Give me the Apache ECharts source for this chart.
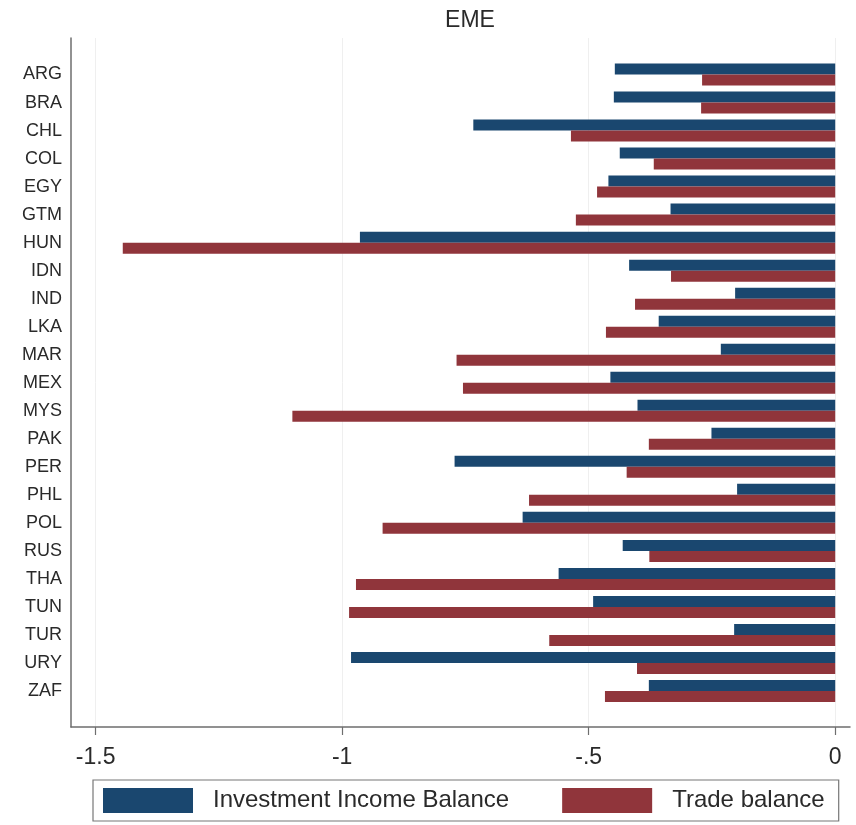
<!DOCTYPE html>
<html>
<head>
<meta charset="utf-8">
<script src="https://cdn.jsdelivr.net/npm/echarts@6/dist/echarts.min.js"></script>
<style>
  html, body { margin: 0; padding: 0; background: #fff; }
  #chart { width: 856px; height: 825px; }
</style>
</head>
<body>
<div id="chart"></div>
<script>
// Country codes, top to bottom
const countries = ['ARG','BRA','CHL','COL','EGY','GTM','HUN','IDN','IND','LKA','MAR','MEX',
  'MYS','PAK','PER','PHL','POL','RUS','THA','TUN','TUR','URY','ZAF'];

// Investment income balance
const investmentIncome = [-0.447,-0.449,-0.734,-0.437,-0.460,-0.334,-0.964,-0.418,-0.203,-0.358,-0.232,-0.456,
  -0.401,-0.251,-0.772,-0.199,-0.634,-0.431,-0.561,-0.491,-0.205,-0.982,-0.378];

// Trade balance
const tradeBalance = [-0.270,-0.272,-0.536,-0.368,-0.483,-0.526,-1.445,-0.333,-0.406,-0.465,-0.768,-0.755,
  -1.101,-0.378,-0.423,-0.621,-0.918,-0.377,-0.972,-0.986,-0.580,-0.402,-0.467];

// Value-axis ticks and their printed labels
const xTicks = [-1.5, -1, -0.5, 0];
const xTickLabels = {'-1.5': '-1.5', '-1': '-1', '-0.5': '-.5', '0': '0'};

const seriesNames = ['Investment Income Balance', 'Trade balance'];

const X_MIN = -1.55, X_MAX = 0.03;
const FONT = '"Liberation Sans", Arial, Helvetica, sans-serif';
const TEXT = '#2a2a2a';
const AXIS = '#6e6e6e';

const chart = echarts.init(document.getElementById('chart'), null, { renderer: 'canvas' });

chart.setOption({
  animation: false,
  backgroundColor: '#ffffff',
  title: {
    text: 'EME',
    left: 465, top: 4, textAlign: 'center',
    textStyle: { fontFamily: FONT, fontSize: 23, fontWeight: 'normal', color: TEXT }
  },
  legend: {
    data: seriesNames,
    left: 93, top: 780,
    padding: [8, 14, 8, 10],
    itemWidth: 90, itemHeight: 25, itemGap: 53,
    icon: 'rect',
    borderColor: '#777', borderWidth: 1.2,
    textStyle: { fontFamily: FONT, fontSize: 24, color: TEXT, padding: [0, 0, 0, 15] }
  },
  grid: [
    // bars
    { left: 71, width: 779, top: 60.5, height: 644.5, containLabel: false },
    // frame: axis lines, ticks, gridlines
    { left: 71, width: 779, top: 38, height: 689, containLabel: false }
  ],
  xAxis: [
    { type: 'value', gridIndex: 0, min: X_MIN, max: X_MAX, show: false },
    {
      type: 'value', gridIndex: 1, min: X_MIN, max: X_MAX,
      axisLine: { show: true, onZero: false, lineStyle: { color: AXIS, width: 1.5 } },
      axisTick: { show: true, length: 8, customValues: xTicks, lineStyle: { color: AXIS, width: 1.2 } },
      axisLabel: {
        customValues: xTicks, margin: 19,
        fontFamily: FONT, fontSize: 23, color: TEXT,
        formatter: v => xTickLabels[String(v)] ?? ''
      },
      splitLine: { show: true, lineStyle: { color: '#efefef', width: 1 } }
    }
  ],
  yAxis: [
    {
      type: 'category', gridIndex: 0, data: countries, inverse: true,
      axisLine: { show: false }, axisTick: { show: false },
      axisLabel: { margin: 9, fontFamily: FONT, fontSize: 18, color: TEXT, padding: [3, 0, 0, 0] },
      splitLine: { show: false }
    },
    {
      type: 'value', gridIndex: 1, min: 0, max: 1,
      axisLine: { show: true, onZero: false, lineStyle: { color: AXIS, width: 1.5 } },
      axisTick: { show: false }, axisLabel: { show: false }, splitLine: { show: false }
    }
  ],
  series: [
    {
      name: seriesNames[0], type: 'bar', xAxisIndex: 0, yAxisIndex: 0,
      data: investmentIncome, barWidth: 11, barGap: '0%',
      itemStyle: { color: '#1a476f' }
    },
    {
      name: seriesNames[1], type: 'bar', xAxisIndex: 0, yAxisIndex: 0,
      data: tradeBalance, barWidth: 11, barGap: '0%',
      itemStyle: { color: '#90353b' }
    }
  ]
});
</script>
</body>
</html>
